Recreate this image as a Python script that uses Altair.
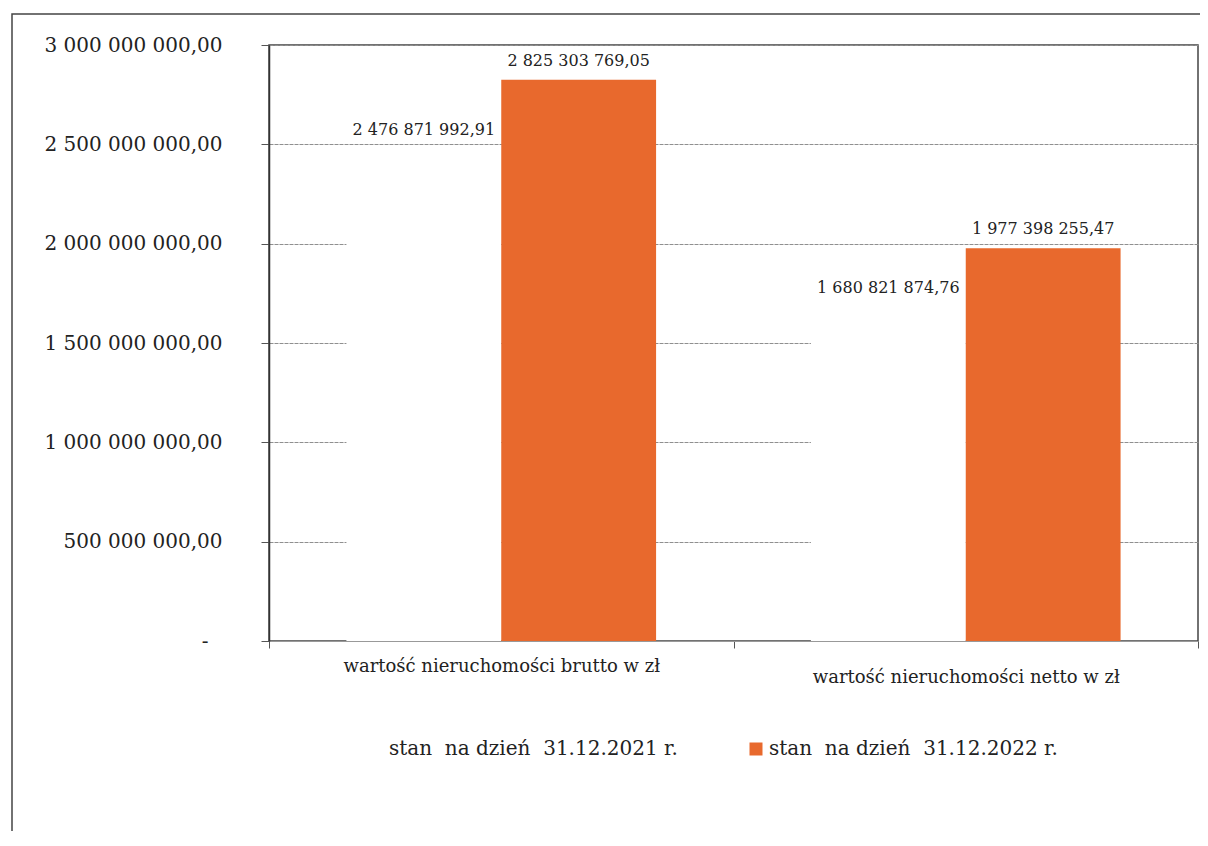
import altair as alt
import pandas as pd

categories = ["wartość nieruchomości brutto w zł", "wartość nieruchomości netto w zł"]
series = ["stan\u00a0 na dzień\u00a0 31.12.2021 r.", "stan\u00a0 na dzień\u00a0 31.12.2022 r."]
values_2021 = [2476871992.91, 1680821874.76]
values_2022 = [2825303769.05, 1977398255.47]
y_ticks = [0, 500000000, 1000000000, 1500000000, 2000000000, 2500000000, 3000000000]
colors = ["#ffffff", "#E8692D"]


def fmt(v):
    return f"{v:,.2f}".replace(",", " ").replace(".", ",")


rows = []
for s, vals in zip(series, [values_2021, values_2022]):
    for c, v in zip(categories, vals):
        rows.append({"cat": c, "series": s, "value": v, "label": fmt(v)})
df = pd.DataFrame(rows)

FONT = "DejaVu Serif"

x_enc = alt.X(
    "cat:N",
    sort=categories,
    scale=alt.Scale(paddingInner=0, paddingOuter=0),
    axis=alt.Axis(
        title=None,
        labelAngle=0,
        labelFont=FONT,
        labelFontSize=18,
        labelColor="#222",
        labelLimit=600,
        labelPadding={"condition": {"test": f"datum.value === '{categories[1]}'", "value": 20}, "value": 9},
        tickBand="extent",
        tickSize=7,
        tickColor="#555",
        domainColor="#999",
        grid=False,
    ),
)
xo_enc = alt.XOffset("series:N", sort=series, scale=alt.Scale(paddingInner=0, paddingOuter=0.5))
y_enc = alt.Y(
    "value:Q",
    scale=alt.Scale(domain=[0, 3000000000], nice=False),
    axis=alt.Axis(
        title=None,
        values=y_ticks,
        labelExpr="datum.value == 0 ? '-' : replace(replace(format(datum.value, ',.2f'), regexp(',', 'g'), ' '), '.', ',')",
        labelFont=FONT,
        labelFontSize=20,
        labelColor="#222",
        labelLimit=300,
        labelPadding={"condition": {"test": "datum.value == 0", "value": 53}, "value": 39},
        tickSize=8,
        tickColor="#555",
        domainColor="#333",
        domainWidth=1.5,
        gridColor="#8f8f8f",
        gridWidth=1,
        gridDash=[4, 1],
    ),
)

bars = alt.Chart(df).mark_bar().encode(
    x=x_enc,
    xOffset=xo_enc,
    y=y_enc,
    color=alt.Color(
        "series:N",
        sort=series,
        scale=alt.Scale(domain=series, range=colors),
        legend=alt.Legend(
            title=None,
            orient="none",
            direction="horizontal",
            legendX=97,
            legendY=694,
            symbolType="square",
            symbolSize=169,
            symbolStrokeWidth=0,
            labelFont=FONT,
            labelFontSize=20,
            labelColor="#222",
            labelOffset=3,
            labelLimit=600,
            columnPadding=68,
            padding=0,
        ),
    ),
)

labels = alt.Chart(df).mark_text(
    font=FONT, fontSize=16, color="#222", baseline="alphabetic", dy=-14
).encode(x=x_enc, xOffset=xo_enc, y=y_enc, text="label:N")

frame = alt.Chart(pd.DataFrame({"k": [0]})).mark_rect(
    fill=None, stroke="#444", strokeWidth=1.5
).encode(
    x=alt.value(-257), x2=alt.value(960), y=alt.value(-31), y2=alt.value(820)
)

chart = alt.layer(bars, labels, frame).properties(
    width=929,
    height=596,
    padding={"left": 261, "top": 37, "right": 2, "bottom": 190},
    autosize=alt.AutoSizeParams(type="none"),
    background="white",
).configure_view(stroke="#444", strokeWidth=1.5)

chart.save("out.html", embed_options={"renderer": "svg", "actions": False})
